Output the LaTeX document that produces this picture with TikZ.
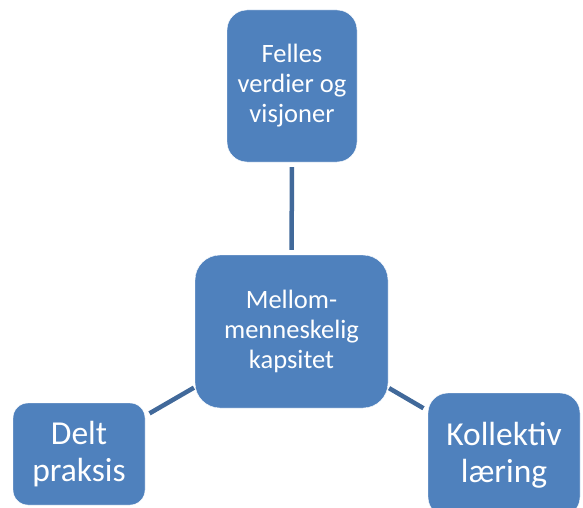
\documentclass[tikz,border=0pt]{standalone}
\usepackage{fontspec}
\setmainfont{Carlito}
\usepackage{tikz}
\definecolor{boxblue}{HTML}{4F81BD}
\definecolor{linkblue}{HTML}{41699A}
\tikzset{box/.style={rectangle,rounded corners=20pt,fill=boxblue,draw=white,text=white,align=center,inner sep=0pt}}
\tikzset{small/.style={font=\fontsize{26.5}{30}\selectfont}}
\tikzset{large/.style={font=\fontsize{33.5}{37}\selectfont}}
\tikzset{link/.style={draw=linkblue,line width=4.5pt,shorten >=5pt,shorten <=5pt}}
\tikzset{links/.style={every edge/.style=link}}

\begin{document}
\begin{tikzpicture}[x=1pt,y=1pt]
  \useasboundingbox (0,0) rectangle (583,-508);
  \clip (0,0) rectangle (583,-508);
  \node [box,small,minimum width=130pt,minimum height=152pt] (F) at (292,-86) {Felles\\verdier og\\visjoner};
  \node [box,small,rounded corners=25pt,minimum width=193pt,minimum height=153pt] (M) at (291.5,-331.5) {Mellom-\\menneskelig\\kapsitet};
  \node [box,large,rounded corners=15pt,minimum width=132pt,minimum height=102pt] (D) at (79,-454) {Delt\\praksis};
  \node [box,large,minimum width=152pt,minimum height=124pt] (K) at (504,-455) {Kollektiv\\læring};
  \path [links]
  (F) edge (M)
  (D) edge [shorten >=1pt] (M)
  (M) edge [shorten <=1pt] (K);
\end{tikzpicture}
\end{document}
